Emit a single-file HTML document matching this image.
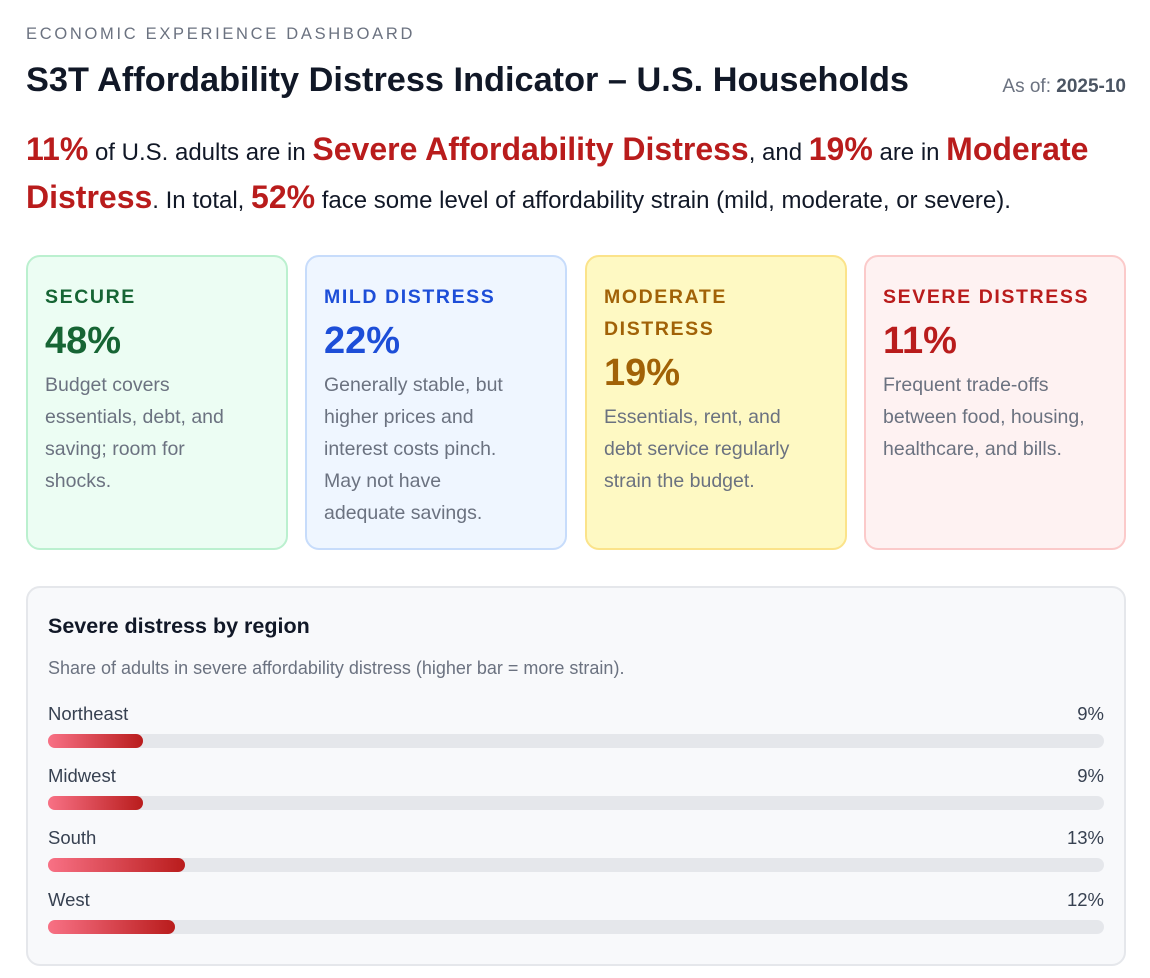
<!DOCTYPE html>
<html><head><meta charset="utf-8"><style>
*{box-sizing:border-box}
body{margin:0;width:1150px;height:978px;background:#fff;font-family:"Liberation Sans",sans-serif;color:#111827;position:relative;overflow:hidden}
.kicker{position:absolute;left:26px;top:25px;font-size:16.5px;letter-spacing:2.7px;color:#6b7280}
.title{position:absolute;left:26px;top:61px;font-size:34.3px;font-weight:bold;color:#111827}
.asof{position:absolute;right:24px;top:76px;font-size:19px;color:#6b7280}
.asof b{color:#4b5563}
.summary{position:absolute;left:26px;top:129px;width:1100px;font-size:24px;line-height:48px;color:#111827}
.summary b{color:#b91c1c;font-size:32px;line-height:1}
.card{position:absolute;top:255px;width:262px;height:295px;border-radius:14px;border:2px solid;padding:24px 30px 24px 17px}
.card .lab{font-size:19.5px;font-weight:bold;letter-spacing:1.6px;line-height:32px}
.card .val{font-size:38px;font-weight:bold;line-height:46px;margin-top:5px}
.card .desc{font-size:19.5px;line-height:32px;color:#6b7280;margin-top:5px}
.panel{position:absolute;left:26px;top:586px;width:1100px;height:380px;background:#f8f9fb;border:2px solid #e5e7eb;border-radius:14px}
.ph{position:absolute;left:20px;top:26px;font-size:21.5px;font-weight:bold}
.ps{position:absolute;left:20px;top:70px;font-size:18px;color:#6b7280}
</style></head><body>
<div class="kicker">ECONOMIC EXPERIENCE DASHBOARD</div>
<div class="title">S3T Affordability Distress Indicator – U.S. Households</div>
<div class="asof">As of: <b>2025-10</b></div>
<div class="summary"><b>11%</b> of U.S. adults are in <b>Severe Affordability Distress</b>, and <b>19%</b> are in <b>Moderate Distress</b>. In total, <b>52%</b> face some level of affordability strain (mild, moderate, or severe).</div>

<div class="card" style="left:26px;background:#ecfdf3;border-color:#bbf0cf"><div class="lab" style="color:#166534">SECURE</div><div class="val" style="color:#166534">48%</div><div class="desc">Budget covers essentials, debt, and saving; room for shocks.</div></div>
<div class="card" style="left:305px;background:#eff6ff;border-color:#c7dcfb"><div class="lab" style="color:#1d4ed8">MILD DISTRESS</div><div class="val" style="color:#1d4ed8">22%</div><div class="desc">Generally stable, but higher prices and interest costs pinch. May not have<br>adequate savings.</div></div>
<div class="card" style="left:585px;background:#fef9c3;border-color:#fbe38a"><div class="lab" style="color:#a16207">MODERATE DISTRESS</div><div class="val" style="color:#a16207">19%</div><div class="desc">Essentials, rent, and debt service regularly strain the budget.</div></div>
<div class="card" style="left:864px;background:#fef2f2;border-color:#fbcaca"><div class="lab" style="color:#b91c1c">SEVERE DISTRESS</div><div class="val" style="color:#b91c1c">11%</div><div class="desc">Frequent trade-offs between food, housing, healthcare, and bills.</div></div>

<div class="panel">
<div class="ph">Severe distress by region</div>
<div class="ps">Share of adults in severe affordability distress (higher bar = more strain).</div>
<div id="rows"></div>
</div>
<script>
const regions=["Northeast","Midwest","South","West"];
const values=[9,9,13,12];
const maxVal=100;
const rows=document.getElementById('rows');
const trackW=1056;
function x(v){return v/maxVal*trackW;}
regions.forEach((r,i)=>{
  const top=115+i*62;
  const lab=document.createElement('div');
  
  
  lab.style.cssText=`position:absolute;left:20px;top:${top}px;font-size:18.5px;color:#374151`;
  lab.textContent=r;rows.appendChild(lab);
  const v=document.createElement('div');
  
  
  v.style.cssText=`position:absolute;right:20px;top:${top}px;font-size:18.5px;color:#374151`;
  v.textContent=values[i]+'%';rows.appendChild(v);
  const t=document.createElement('div');
  
  
  t.style.cssText=`position:absolute;left:20px;top:${top+31}px;width:${trackW}px;height:14px;border-radius:7px;background:#e5e7eb`;
  rows.appendChild(t);
  const b=document.createElement('div');
  
  
  b.style.cssText=`position:absolute;left:0;top:0;height:14px;width:${x(values[i])}px;border-radius:7px;background:linear-gradient(90deg,#f87185,#b91c1c)`;
  t.appendChild(b);
});
</script>
</body></html>
